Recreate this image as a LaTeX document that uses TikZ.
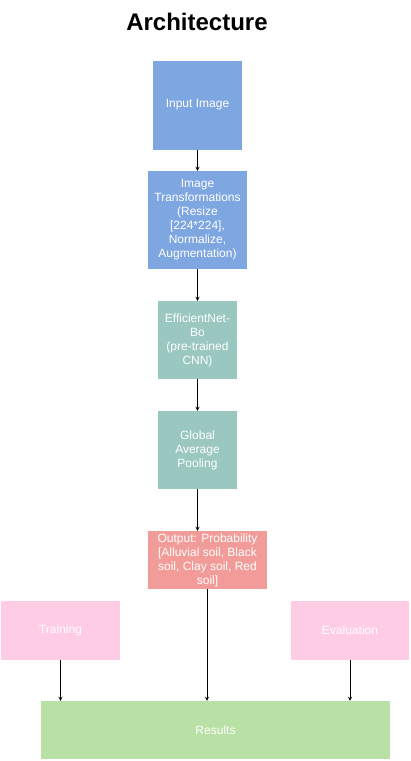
\documentclass[tikz,border=0pt]{standalone}
\usepackage{fontspec}
\setmainfont{Liberation Sans}
\usetikzlibrary{arrows}

\definecolor{blueblk}{HTML}{7EA6E0}
\definecolor{tealblk}{HTML}{9AC7BF}
\definecolor{redblk}{HTML}{F19C99}
\definecolor{pinkblk}{HTML}{FFCCE6}
\definecolor{greenblk}{HTML}{B9E0A5}

\begin{document}
\begin{tikzpicture}[
    x=1pt, y=-1pt,
    box/.style={inner sep=0pt, align=center, text=white,
      font=\fontsize{12}{14}\selectfont},
    flow/.style={->, >=stealth, thick}
  ]
    \useasboundingbox (0,0) rectangle (411,761);
    \node[font=\fontsize{24}{28}\bfseries\selectfont] (title) at (197,22) {Architecture};

    % main chain
    \node[box, fill=blueblk, minimum width=89pt, minimum height=89pt] (input) at (197.5,105) {Input Image};
    \node[box, fill=blueblk, minimum width=99pt, minimum height=98pt] (trans) at (197.5,220)
        {Image\\Transformations\\(Resize\\{[224*224],}\\Normalize,\\Augmentation)};
    \node[box, fill=tealblk, minimum width=79pt, minimum height=78pt] (effnet) at (197.5,340)
        {EfficientNet-\\Bo\\(pre-trained\\CNN)};
    \node[box, fill=tealblk, minimum width=79pt, minimum height=78pt] (pool) at (197.5,450)
        {Global\\Average\\Pooling};
    \node[box, fill=redblk, minimum width=119pt, minimum height=58pt] (output) at (207.5,560)
        {Output: Probability\\{[Alluvial soil, Black}\\soil, Clay soil, Red\\soil]};

    % side blocks
    \node[box, fill=pinkblk, minimum width=119pt, minimum height=59pt] (training) at (60.5,630.5) {Training};
    \node[box, fill=pinkblk, minimum width=118pt, minimum height=59pt] (evaluation) at (350,630.5) {Evaluation};
    \node[box, fill=greenblk, minimum width=349pt, minimum height=58pt] (results) at (215.5,730) {Results};

    \draw[flow] (input) -- (trans);
    \draw[flow] (trans) -- (effnet);
    \draw[flow] (effnet) -- (pool);
    \draw[flow] (pool.south) -- (pool.south |- output.north);
    \draw[flow] (output.south -| 207,0) -- (207,0 |- results.north);
    \draw[flow] (training.south) -- (training.south |- results.north);
    \draw[flow] (evaluation.south) -- (evaluation.south |- results.north);
\end{tikzpicture}
\end{document}
